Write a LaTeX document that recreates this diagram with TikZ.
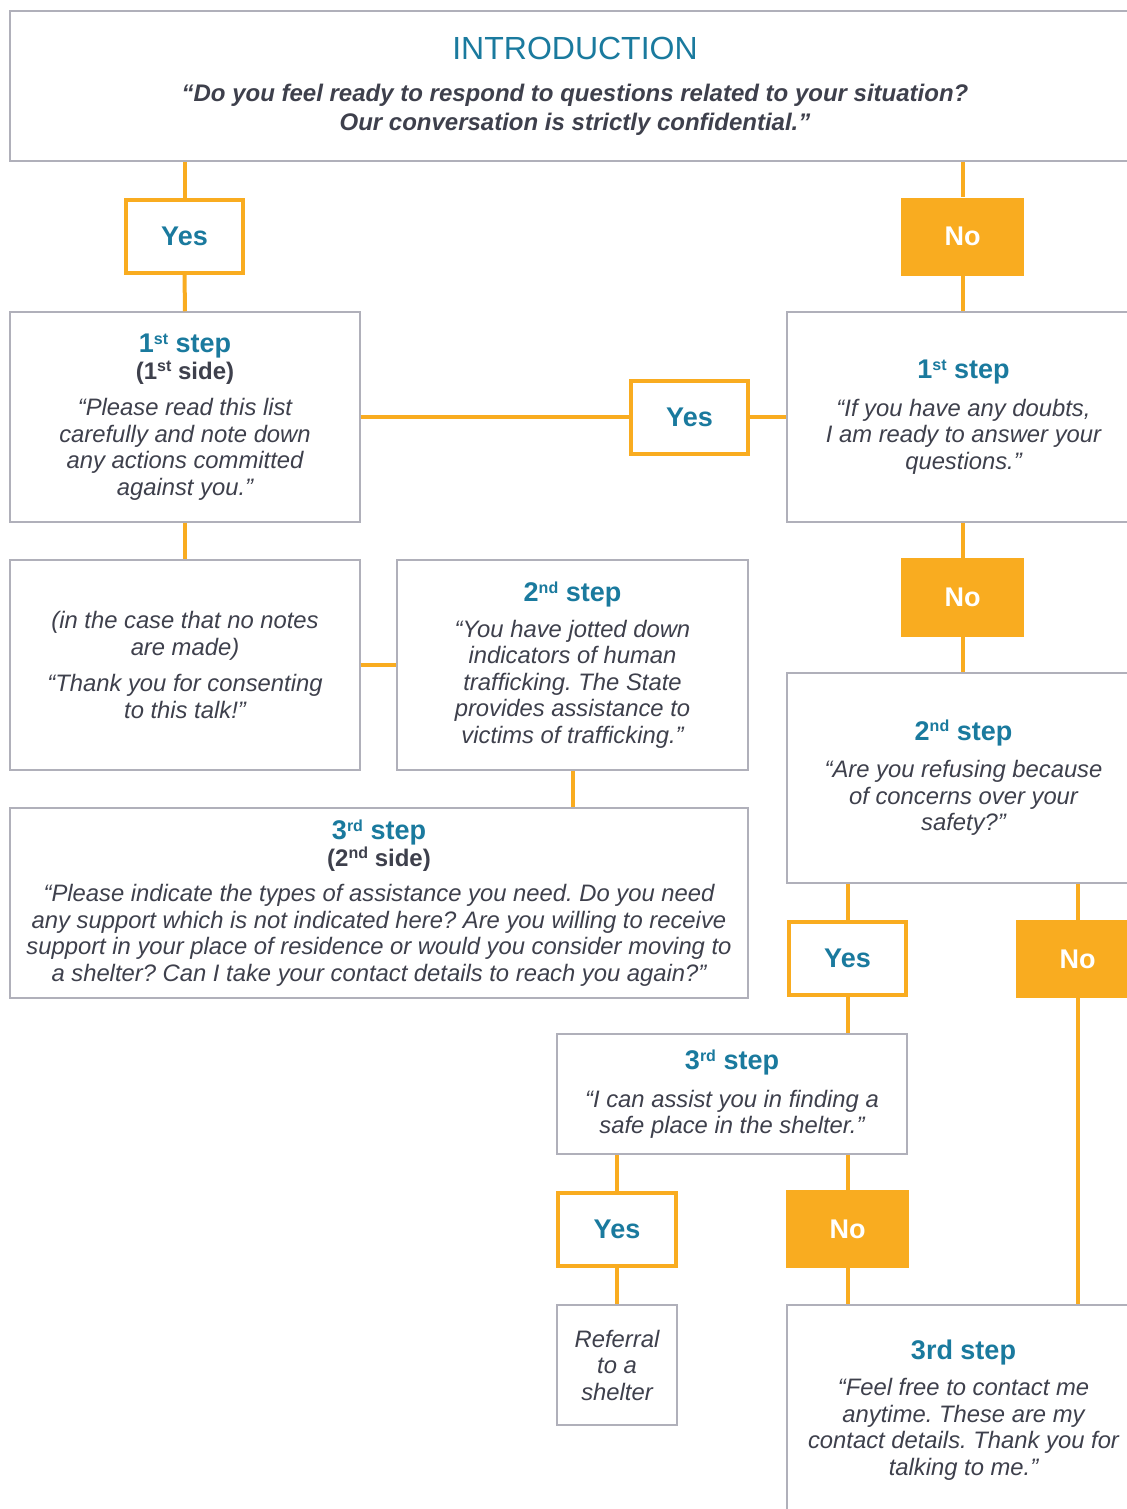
\documentclass[tikz,border=0pt]{standalone}
\usepackage{fontspec}
\setmainfont{Liberation Sans}
\usepackage{tikz}

\definecolor{stepblue}{RGB}{26,122,158}
\definecolor{linkorange}{RGB}{249,172,32}
\definecolor{quotegrey}{RGB}{62,64,76}
\definecolor{boxgrey}{RGB}{176,176,186}

\newcommand{\ordsup}[1]{\raisebox{0.6ex}{\fontsize{8}{8}\selectfont #1}}
\newcommand{\stephead}[1]{{\color{stepblue}\fontsize{13.5}{15}\selectfont\bfseries\upshape #1}}
\newcommand{\sidehead}[1]{{\fontsize{12}{14}\selectfont\bfseries\upshape #1}}
\frenchspacing

\begin{document}
\begin{tikzpicture}[x=0.5pt,y=-0.5pt,
  link/.style={draw=linkorange,line width=2pt},
  textbox/.style={draw=boxgrey,line width=0.75pt,fill=white,inner sep=0pt,align=center,
    text=quotegrey,font=\fontsize{11.9}{13.25}\selectfont\itshape},
  yesbox/.style={draw=linkorange,line width=2pt,fill=white,inner sep=0pt,
    minimum width=58.5pt,minimum height=36.5pt,text=stepblue,font=\fontsize{13.5}{15}\selectfont\bfseries},
  nobox/.style={fill=linkorange,inner sep=0pt,minimum width=61.5pt,minimum height=39pt,
    text=white,font=\fontsize{13.5}{15}\selectfont\bfseries}]
% Page frame
\useasboundingbox (0,0) rectangle (1127,1509);
\clip (0,0) rectangle (1127,1509);

% Introduction
\node[textbox,minimum width=565pt,minimum height=75pt,font=\fontsize{12}{14.5}\selectfont\itshape] (intro) at (575,86)
  {{\color{stepblue}\fontsize{16}{18}\selectfont\upshape INTRODUCTION}\\[6.5pt]
   \bfseries “Do you feel ready to respond to questions related to your situation?\\
   \bfseries Our conversation is strictly confidential.”};

% Answers to the introduction
\node[yesbox] (yesA) at (184.5,236) {Yes};
\node[nobox] (noA) at (962.5,236.5) {No};

% First steps
\node[textbox,minimum width=175pt,minimum height=105pt] (stepOneL) at (185,417)
  {\stephead{1\ordsup{st} step}\\ \sidehead{(1\ordsup{st} side)}\\[5pt]
   “Please read this list\\ carefully and note down\\ any actions committed\\ against you.”};
\node[textbox,minimum width=176.5pt,minimum height=105pt] (stepOneR) at (963.5,417)
  {\stephead{1\ordsup{st} step}\\[5.5pt]
   “If you have any doubts,\\ I am ready to answer your\\ questions.”};
\node[yesbox] (yesB) at (689.5,417) {Yes};
\node[nobox,minimum height=39.5pt] (noB) at (962.5,597.5) {No};

% Second steps
\node[textbox,minimum width=175pt,minimum height=105pt] (noteL) at (185,665)
  {(in the case that no notes\\ are made)\\[5pt]
   “Thank you for consenting\\ to this talk!”};
\node[textbox,minimum width=175.5pt,minimum height=105pt] (stepTwoM) at (572.5,665)
  {\stephead{2\ordsup{nd} step}\\[4.5pt]
   “You have jotted down\\ indicators of human\\ trafficking. The State\\ provides assistance to\\ victims of trafficking.”};
\node[textbox,minimum width=176.5pt,minimum height=105pt] (stepTwoR) at (963.5,778)
  {\stephead{2\ordsup{nd} step}\\[5.5pt]
   “Are you refusing because\\ of concerns over your\\ safety?”};

% Third steps
\node[textbox,minimum width=369pt,minimum height=95pt] (stepThree) at (379,903)
  {\stephead{3\ordsup{rd} step}\\ \sidehead{(2\ordsup{nd} side)}\\[4.5pt]
   “Please indicate the types of assistance you need. Do you need\\
   any support which is not indicated here? Are you willing to receive\\
   support in your place of residence or would you consider moving to\\
   a shelter? Can I take your contact details to reach you again?”};
\node[yesbox] (yesC) at (847.5,958.5) {Yes};
\node[nobox] (noC) at (1077.5,959) {No};
\node[textbox,minimum width=175pt,minimum height=60pt] (stepThreeS) at (732,1094)
  {\stephead{3\ordsup{rd} step}\\[5.5pt]
   “I can assist you in finding a\\ safe place in the shelter.”};
\node[yesbox,minimum width=59pt] (yesD) at (617,1229.5) {Yes};
\node[nobox] (noD) at (847.5,1229) {No};
\node[textbox,minimum width=60pt,minimum height=60pt] (referral) at (617,1365)
  {Referral\\ to a\\ shelter};
\node[textbox,minimum width=176.5pt,minimum height=105pt] (stepThreeB) at (963.5,1410)
  {\stephead{3rd step}\\[5pt]
   “Feel free to contact me\\ anytime. These are my\\ contact details. Thank you for\\ talking to me.”};

% Links
\draw[link] (yesA.north) -- (yesA.north |- intro.south);
\draw[link] (noA.north) -- (noA.north |- intro.south);
\foreach \a/\b in {yesA/stepOneL,stepOneL/noteL,yesD/referral} {
  \draw[link] (\a.south) -- (\b.north);
}
\draw[link] (noA.south) -- (noA.south |- stepOneR.north);
\draw[link] (stepOneL.east) -- (yesB.west);
\draw[link] (yesB.east) -- (stepOneR.west);
\draw[link] (noteL.east) -- (stepTwoM.west);
\draw[link] (stepTwoM.south) -- (stepTwoM.south |- stepThree.north);
\draw[link] (noB.north |- stepOneR.south) -- (noB.north);
\draw[link] (noB.south) -- (noB.south |- stepTwoR.north);
\draw[link] (yesC.north |- stepTwoR.south) -- (yesC.north);
\draw[link] (noC.north |- stepTwoR.south) -- (noC.north);
\draw[link] (yesC.south) -- (yesC.south |- stepThreeS.north);
\draw[link] (noC.south) -- (noC.south |- stepThreeB.north);
\draw[link] (yesD.north |- stepThreeS.south) -- (yesD.north);
\draw[link] (noD.north |- stepThreeS.south) -- (noD.north);
\draw[link] (noD.south) -- (noD.south |- stepThreeB.north);

\end{tikzpicture}
\end{document}
